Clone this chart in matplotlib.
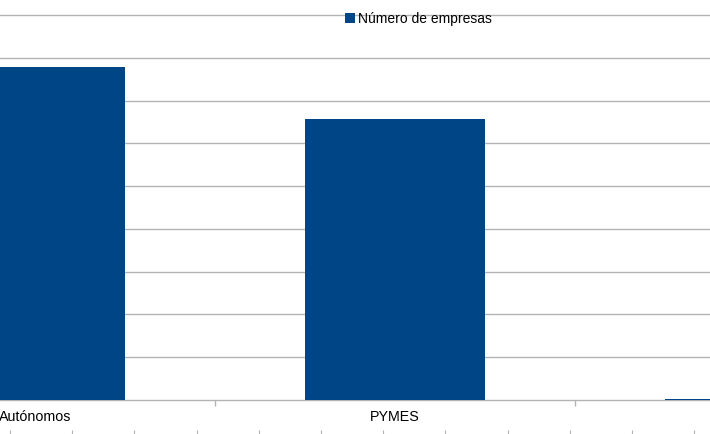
import matplotlib
matplotlib.use("Agg")
from matplotlib import pyplot as plt
import numpy as np

categories = ["Autónomos", "PYMES", "Grandes empresas"]
empresas = [1556000, 1313000, 6000]
series_name = "Número de empresas"

plt.rcParams['font.family'] = ['Liberation Sans', 'DejaVu Sans']

W, H = 710, 434
fig = plt.figure(figsize=(W / 100, H / 100), dpi=100)

# main axes: baseline at y=400 px, category spacing 360 px
ax = fig.add_axes([0, 34 / H, 1, 400 / H])
x = np.arange(len(categories))
ax.bar(x, empresas, width=0.5, color='#004586', zorder=3)

ax.set_xticks(x)
ax.set_xticklabels(categories, fontsize=10.3, color='#000000')
ax.set_xticks(x[:-1] + 0.5, minor=True)
ax.tick_params(axis='x', which='major', length=0, pad=7)
ax.tick_params(axis='x', which='minor', length=4, color='#b3b3b3', width=1)

# limits after ticks, so the ticks do not widen the view
ax.set_xlim(-35 / 360, (W - 35) / 360)
ax.set_ylim(0, 400 / 42.78 * 200000)
ax.set_yticks(np.arange(200000, 1800001, 200000))
ax.yaxis.grid(True, color='#b3b3b3', linewidth=1, zorder=0)
ax.tick_params(axis='y', length=0, labelleft=False)

for side in ['top', 'left', 'right']:
    ax.spines[side].set_visible(False)
ax.spines['bottom'].set_color('#b3b3b3')
ax.spines['bottom'].set_linewidth(1)

ax.legend([series_name], loc='center left', bbox_to_anchor=(345 / W, 1 - 19 / H),
          bbox_transform=fig.transFigure, frameon=False, fontsize=10,
          handlelength=0.7, handleheight=0.7, handletextpad=0.2, borderpad=0,
          borderaxespad=0)

# ticks of the next chart peeking in at the bottom edge
ax2 = fig.add_axes([0, 0, 1, 4 / H])
ax2.set_xlim(0, W)
ax2.set_xticks(np.arange(10, W, 62.2))
ax2.xaxis.tick_top()
ax2.tick_params(axis='x', direction='in', length=4, color='#b3b3b3', labeltop=False)
ax2.set_yticks([])
for s in ax2.spines.values():
    s.set_visible(False)
ax2.patch.set_alpha(0)

fig.savefig("out.png", dpi=100)
